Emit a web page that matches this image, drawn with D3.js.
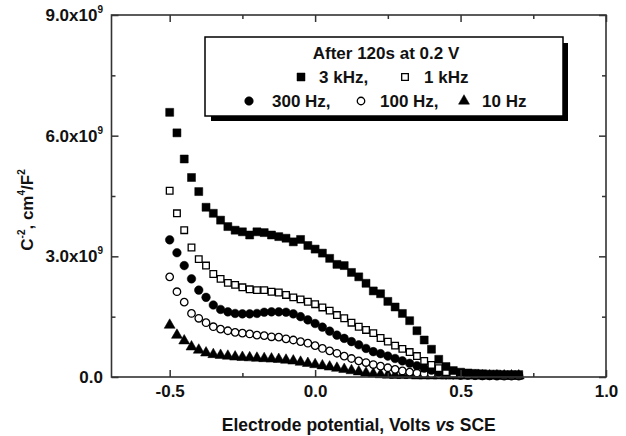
<!DOCTYPE html>
<html><head><meta charset="utf-8">
<script src="https://cdn.jsdelivr.net/npm/d3@7"></script>
<style>body{margin:0;background:#fff}svg{display:block}text{font-family:"Liberation Sans",Arial,sans-serif;font-weight:bold;fill:#111}</style>
</head><body>
<script>
const potentials = d3.range(49).map(i => -0.5 + 0.025 * i);
const s3kHz = [6.58,6.07,5.42,4.96,4.61,4.22,4.07,3.90,3.74,3.65,3.61,3.53,3.61,3.59,3.53,3.49,3.45,3.36,3.42,3.27,3.18,3.08,2.95,2.80,2.77,2.60,2.49,2.33,2.14,2.07,1.88,1.74,1.58,1.40,1.15,0.92,0.69,0.44,0.26,0.16,0.12,0.10,0.09,0.08,0.07,0.07,0.06,0.06,0.06];
const s1kHz = [4.63,4.07,3.65,3.22,2.93,2.77,2.56,2.44,2.34,2.29,2.23,2.18,2.16,2.16,2.12,2.10,2.04,1.98,1.93,1.87,1.81,1.73,1.65,1.54,1.46,1.35,1.25,1.17,1.09,0.97,0.88,0.78,0.70,0.62,0.52,0.40,0.30,0.22,0.12,0.08,0.06,0.05,0.05,0.04,0.04,0.04,0.03,0.03,0.03];
const s300Hz = [3.41,3.09,2.77,2.44,2.16,1.98,1.79,1.68,1.62,1.58,1.57,1.57,1.58,1.61,1.62,1.62,1.61,1.57,1.50,1.42,1.33,1.24,1.14,1.04,0.96,0.88,0.80,0.71,0.63,0.58,0.52,0.46,0.40,0.34,0.28,0.22,0.17,0.12,0.08,0.06,0.05,0.05,0.04,0.04,0.04,0.03,0.03,0.03,0.03];
const s100Hz = [2.49,2.12,1.86,1.58,1.46,1.35,1.25,1.19,1.15,1.11,1.09,1.07,1.04,1.03,1.00,0.99,0.95,0.92,0.88,0.84,0.78,0.71,0.65,0.59,0.52,0.46,0.40,0.36,0.31,0.27,0.23,0.19,0.15,0.12,0.10,0.08,0.07,0.06,0.05,0.05,0.04,0.04,0.04,0.03,0.03,0.03,0.03,0.03,0.03];
const s10Hz = [1.29,1.04,0.90,0.75,0.67,0.60,0.56,0.54,0.52,0.50,0.49,0.48,0.47,0.46,0.45,0.44,0.42,0.40,0.37,0.34,0.31,0.28,0.25,0.22,0.19,0.16,0.13,0.10,0.08,0.06,0.05,0.04,0.04,0.04,0.03,0.03,0.03,0.03,0.03,0.03,0.03,0.03,0.03,0.03,0.03,0.03,0.03,0.03,0.03];
const seriesNames = ["3 kHz","1 kHz","300 Hz","100 Hz","10 Hz"];
const xTicks = [-0.5, 0.0, 0.5, 1.0];
const xMinor = [-0.25, 0.25, 0.75];
const yTicks = [0, 3, 6, 9];
const yMinor = [1.5, 4.5, 7.5];
const legendTitle = "After 120s at 0.2 V";

const W = 626, H = 436;
const svg = d3.select("body").append("svg").attr("width", W).attr("height", H);
const x = d3.scaleLinear().domain([-0.7, 1.0]).range([111.5, 606]);
const y = d3.scaleLinear().domain([0, 9]).range([377, 15]);

const series = [
  {name: seriesNames[0], data: s3kHz, shape: d3.symbolSquare, fill: "#000", size: 64},
  {name: seriesNames[1], data: s1kHz, shape: d3.symbolSquare, fill: "#fff", size: 44},
  {name: seriesNames[2], data: s300Hz, shape: d3.symbolCircle, fill: "#000", size: 58},
  {name: seriesNames[3], data: s100Hz, shape: d3.symbolCircle, fill: "#fff", size: 44},
  {name: seriesNames[4], data: s10Hz, shape: d3.symbolTriangle, fill: "#000", size: 52}
];

series.slice().reverse().forEach(s => {
  svg.append("g").selectAll("path").data(s.data).join("path")
    .attr("transform", (d, i) => `translate(${x(potentials[i])},${y(d)})`)
    .attr("d", d3.symbol().type(s.shape).size(s.size))
    .attr("fill", s.fill).attr("stroke", "#000").attr("stroke-width", s.fill === "#fff" ? 1.3 : 0.5);
});

const axColor = "#333";
svg.append("rect").attr("x", x(-0.7)).attr("y", y(9)).attr("width", x(1.0) - x(-0.7)).attr("height", y(0) - y(9))
  .attr("fill", "none").attr("stroke", axColor).attr("stroke-width", 1.6);

function styleAxis(g) { g.select(".domain").remove(); g.selectAll("line").attr("stroke", axColor).attr("stroke-width", 1.5); }

const bx = d3.axisBottom(x).tickValues(xTicks).tickSize(-7).tickFormat(d3.format(".1f"));
const gb = svg.append("g").attr("transform", `translate(0,${y(0)})`).call(bx);
styleAxis(gb);
gb.selectAll("text").attr("dy", null).attr("y", 20).attr("font-size", 17).attr("font-family", "Liberation Sans, Arial, sans-serif").attr("font-weight", "bold").attr("fill", "#111")
  .text(d => d < 0 ? "-" + Math.abs(d).toFixed(1) : d.toFixed(1));
styleAxis(svg.append("g").attr("transform", `translate(0,${y(0)})`).call(d3.axisBottom(x).tickValues(xMinor).tickSize(-4).tickFormat("")));
styleAxis(svg.append("g").attr("transform", `translate(0,${y(9)})`).call(d3.axisTop(x).tickValues(xTicks).tickSize(-7).tickFormat("")));
styleAxis(svg.append("g").attr("transform", `translate(0,${y(9)})`).call(d3.axisTop(x).tickValues(xMinor).tickSize(-4).tickFormat("")));
styleAxis(svg.append("g").attr("transform", `translate(${x(-0.7)},0)`).call(d3.axisLeft(y).tickValues(yTicks).tickSize(-7).tickFormat("")));
styleAxis(svg.append("g").attr("transform", `translate(${x(-0.7)},0)`).call(d3.axisLeft(y).tickValues(yMinor).tickSize(-4).tickFormat("")));
styleAxis(svg.append("g").attr("transform", `translate(${x(1.0)},0)`).call(d3.axisRight(y).tickValues(yTicks).tickSize(-7).tickFormat("")));
styleAxis(svg.append("g").attr("transform", `translate(${x(1.0)},0)`).call(d3.axisRight(y).tickValues(yMinor).tickSize(-4).tickFormat("")));

yTicks.forEach(v => {
  const t = svg.append("text").attr("text-anchor", "end").attr("font-size", 17)
    .attr("x", 103).attr("y", y(v) + 6);
  if (v === 0) { t.text("0.0"); }
  else {
    t.append("tspan").text(v.toFixed(1) + "x10");
    t.append("tspan").attr("font-size", 10).attr("dy", -8).text("9");
  }
});

const xt = svg.append("text").attr("x", (x(-0.7) + x(1.0)) / 2).attr("y", 431).attr("text-anchor", "middle").attr("font-size", 17.5);
xt.append("tspan").text("Electrode potential, Volts ");
xt.append("tspan").attr("font-style", "italic").text("vs");
xt.append("tspan").text(" SCE");

const yt = svg.append("text").attr("transform", `translate(33,210) rotate(-90)`).attr("text-anchor", "middle").attr("font-size", 17);
yt.append("tspan").text("C");
yt.append("tspan").attr("font-size", 10).attr("dy", -8).text("-2");
yt.append("tspan").attr("dy", 8).text(", cm");
yt.append("tspan").attr("font-size", 10).attr("dy", -8).text("4");
yt.append("tspan").attr("dy", 8).text("/F");
yt.append("tspan").attr("font-size", 10).attr("dy", -8).text("2");

const lg = svg.append("g");
lg.append("rect").attr("x", 211).attr("y", 43).attr("width", 357).attr("height", 78).attr("fill", "#000");
lg.append("rect").attr("x", 205).attr("y", 37).attr("width", 358).attr("height", 79).attr("fill", "#fff").attr("stroke", "#000").attr("stroke-width", 1.5);
lg.append("text").attr("x", 386).attr("y", 59).attr("text-anchor", "middle").attr("font-size", 17).text(legendTitle);
const items = [
  {s: series[0], mx: 301, tx: 319, ty: 83, label: series[0].name + ","},
  {s: series[1], mx: 405, tx: 424, ty: 83, label: series[1].name},
  {s: series[2], mx: 249, tx: 272, ty: 107, label: series[2].name + ","},
  {s: series[3], mx: 361, tx: 380, ty: 107, label: series[3].name + ","},
  {s: series[4], mx: 464, tx: 482, ty: 107, label: series[4].name}
];
items.forEach(it => {
  lg.append("path").attr("transform", `translate(${it.mx},${it.ty - 6})`)
    .attr("d", d3.symbol().type(it.s.shape).size(it.s.size))
    .attr("fill", it.s.fill).attr("stroke", "#000").attr("stroke-width", it.s.fill === "#fff" ? 1.3 : 0.5);
  lg.append("text").attr("x", it.tx).attr("y", it.ty).attr("font-size", 17).text(it.label);
});
</script>
</body></html>
